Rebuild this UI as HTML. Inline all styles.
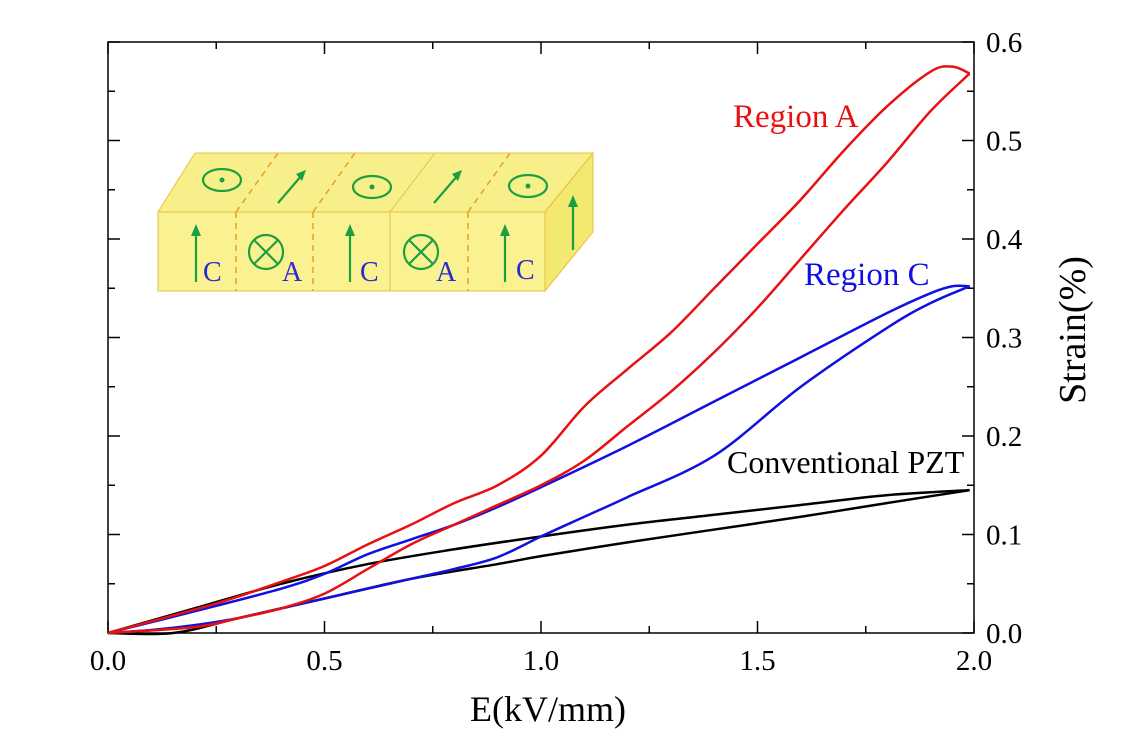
<!DOCTYPE html>
<html><head><meta charset="utf-8"><style>
body{margin:0;background:#fff}
svg{display:block;font-family:"Liberation Serif",serif}
</style></head><body>
<svg id="chart" width="1137" height="753" viewBox="0 0 1137 753">
<g id="inset">
 <polygon points="158,212 195,153 593,153 545,212" fill="#f7ef8a" stroke="#e8c040" stroke-width="1"/>
 <polygon points="545,212 593,153 593,232 545,291" fill="#f3e870" stroke="#e8c040" stroke-width="1"/>
 <rect x="158" y="212" width="387" height="79" fill="#faf290" stroke="#e8c040" stroke-width="1"/>
 <g stroke="#e8a020" stroke-width="1.5" stroke-dasharray="6,5" fill="none">
  <line x1="236" y1="212" x2="236" y2="291"/><line x1="313" y1="212" x2="313" y2="291"/>
  <line x1="468" y1="212" x2="468" y2="291"/>
  <line x1="236" y1="212" x2="278" y2="153"/><line x1="313" y1="212" x2="355" y2="153"/>
  <line x1="468" y1="212" x2="510" y2="153"/>
 </g>
 <line x1="390" y1="212" x2="390" y2="291" stroke="#e8c040"/>
 <line x1="390" y1="212" x2="435" y2="153" stroke="#e8c040"/>
 <g stroke="#1aa040" stroke-width="2.2" fill="none">
  <ellipse cx="222" cy="180" rx="19" ry="11"/><ellipse cx="372" cy="187" rx="19" ry="11"/><ellipse cx="528" cy="186" rx="19" ry="11"/>
  <line x1="278" y1="203" x2="302" y2="175"/><line x1="434" y1="203" x2="458" y2="175"/>
  <line x1="196" y1="282" x2="196" y2="232"/><line x1="350" y1="282" x2="350" y2="232"/><line x1="505" y1="282" x2="505" y2="232"/><line x1="573" y1="250" x2="573" y2="203"/>
  <circle cx="266" cy="252" r="17"/><line x1="254" y1="240" x2="278" y2="264"/><line x1="278" y1="240" x2="254" y2="264"/>
  <circle cx="421" cy="252" r="17"/><line x1="409" y1="240" x2="433" y2="264"/><line x1="433" y1="240" x2="409" y2="264"/>
 </g>
 <g fill="#1aa040">
  <circle cx="222" cy="180" r="2.5"/><circle cx="372" cy="187" r="2.5"/><circle cx="528" cy="186" r="2.5"/>
  <polygon points="306,170 296,174 302,181"/><polygon points="462,170 452,174 458,181"/>
  <polygon points="196,224 191,236 201,236"/><polygon points="350,224 345,236 355,236"/><polygon points="505,224 500,236 510,236"/><polygon points="573,195 568,207 578,207"/>
 </g>
 <g fill="#2a2ad0" font-size="28">
  <text x="203" y="281">C</text><text x="282" y="281">A</text><text x="360" y="281">C</text><text x="436" y="281">A</text><text x="516" y="279">C</text>
 </g>
</g>
<g id="axes" stroke="#000" stroke-width="1.5" fill="none"></g>
<g id="ticklabels" font-size="29" fill="#000"></g>
<g id="series" fill="none" stroke-width="2.5"></g>
<text x="548" y="721" font-size="36" text-anchor="middle">E(kV/mm)</text>
<text transform="translate(1085,330) rotate(-90)" font-size="38" text-anchor="middle">Strain(%)</text>
<text x="733" y="127" font-size="33" fill="#e81010">Region A</text>
<text x="804" y="285" font-size="33" fill="#1010e0">Region C</text>
<text x="727" y="473" font-size="32" fill="#000">Conventional PZT</text>
</svg>
<script>
const xTicks=[0.0,0.5,1.0,1.5,2.0];
const yTicks=[0.0,0.1,0.2,0.3,0.4,0.5,0.6];
const redUpE=[0,0.25,0.4,0.5,0.6,0.7,0.8,0.9,1.0,1.1,1.2,1.3,1.4,1.5,1.6,1.7,1.8,1.9,1.95,1.99];
const redUpS=[0,0.03,0.052,0.068,0.09,0.11,0.132,0.15,0.18,0.23,0.268,0.305,0.35,0.395,0.44,0.49,0.535,0.57,0.575,0.568];
const redLoE=[0,0.2,0.3,0.4,0.5,0.6,0.7,0.8,0.9,1.0,1.1,1.2,1.3,1.4,1.5,1.6,1.7,1.8,1.9,1.99];
const redLoS=[0,0.006,0.015,0.025,0.04,0.065,0.09,0.11,0.13,0.15,0.175,0.21,0.245,0.285,0.33,0.38,0.43,0.478,0.53,0.568];
const blueUpE=[0,0.2,0.4,0.5,0.6,0.7,0.8,0.9,1.0,1.2,1.4,1.6,1.8,1.9,1.95,1.99];
const blueUpS=[0,0.022,0.045,0.06,0.08,0.095,0.11,0.128,0.148,0.19,0.235,0.28,0.325,0.345,0.352,0.352];
const blueLoE=[0,0.1,0.2,0.3,0.4,0.5,0.6,0.7,0.8,0.9,1.0,1.1,1.2,1.4,1.6,1.8,1.9,1.99];
const blueLoS=[0,0.003,0.008,0.015,0.025,0.035,0.045,0.055,0.065,0.077,0.098,0.118,0.138,0.18,0.25,0.31,0.335,0.352];
const blackUpE=[0,0.2,0.4,0.6,0.8,1.0,1.2,1.4,1.6,1.8,1.99];
const blackUpS=[0,0.025,0.05,0.07,0.085,0.098,0.11,0.12,0.13,0.14,0.145];
const blackLoE=[0,0.15,0.3,0.5,0.7,0.9,1.0,1.2,1.4,1.6,1.8,1.99];
const blackLoS=[0,0,0.015,0.035,0.055,0.07,0.078,0.092,0.105,0.118,0.132,0.145];

const X0=108,X1=974,Y0=633,Y1=42;
const sx=v=>X0+(v-0)/2*(X1-X0);
const sy=v=>Y0-(v-0)/0.6*(Y0-Y1);
const NS='http://www.w3.org/2000/svg';
const axes=document.getElementById('axes');
const tl=document.getElementById('ticklabels');
function line(x1,y1,x2,y2){const l=document.createElementNS(NS,'line');l.setAttribute('x1',x1);l.setAttribute('y1',y1);l.setAttribute('x2',x2);l.setAttribute('y2',y2);axes.appendChild(l);return l;}
const frame=document.createElementNS(NS,'rect');
frame.setAttribute('x',X0);frame.setAttribute('y',Y1);frame.setAttribute('width',X1-X0);frame.setAttribute('height',Y0-Y1);


axes.appendChild(frame);
for(let v=0;v<=2.0001;v+=0.25){const major=Math.abs(v*2-Math.round(v*2))<1e-6;line(sx(v),Y0,sx(v),Y0-(major?12:7));line(sx(v),Y1,sx(v),Y1+(major?12:7));}
for(let v=0;v<=0.6001;v+=0.05){const major=Math.abs(v*10-Math.round(v*10))<1e-6;line(X0,sy(v),X0+(major?12:7),sy(v));line(X1,sy(v),X1-(major?12:7),sy(v));}
xTicks.forEach(v=>{const t=document.createElementNS(NS,'text');t.setAttribute('x',sx(v));t.setAttribute('y',670);t.setAttribute('text-anchor','middle');t.textContent=v.toFixed(1);


tl.appendChild(t);});
yTicks.forEach(v=>{const t=document.createElementNS(NS,'text');t.setAttribute('x',986);t.setAttribute('y',sy(v)+10);t.textContent=v.toFixed(1);


tl.appendChild(t);});
function path(E,S){const p=E.map((e,i)=>[sx(e),sy(S[i])]);let d='M'+p[0][0]+','+p[0][1];
for(let i=0;i<p.length-1;i++){const a=p[Math.max(i-1,0)],b=p[i],c=p[i+1],e=p[Math.min(i+2,p.length-1)];
d+=` C${b[0]+(c[0]-a[0])/6},${b[1]+(c[1]-a[1])/6} ${c[0]-(e[0]-b[0])/6},${c[1]-(e[1]-b[1])/6} ${c[0]},${c[1]}`;}return d;}
const ser=document.getElementById('series');
[[blackUpE,blackUpS,'#000','black-upper-branch'],[blackLoE,blackLoS,'#000','black-lower-branch'],
 [blueUpE,blueUpS,'#1010e0','blue-upper-branch'],[blueLoE,blueLoS,'#1010e0','blue-lower-branch'],
 [redUpE,redUpS,'#e81010','red-upper-branch'],[redLoE,redLoS,'#e81010','red-lower-branch']].forEach(s=>{
 const el=document.createElementNS(NS,'path');el.setAttribute('d',path(s[0],s[1]));el.setAttribute('stroke',s[2]);
 
 
 ser.appendChild(el);});
</script>
</body></html>
